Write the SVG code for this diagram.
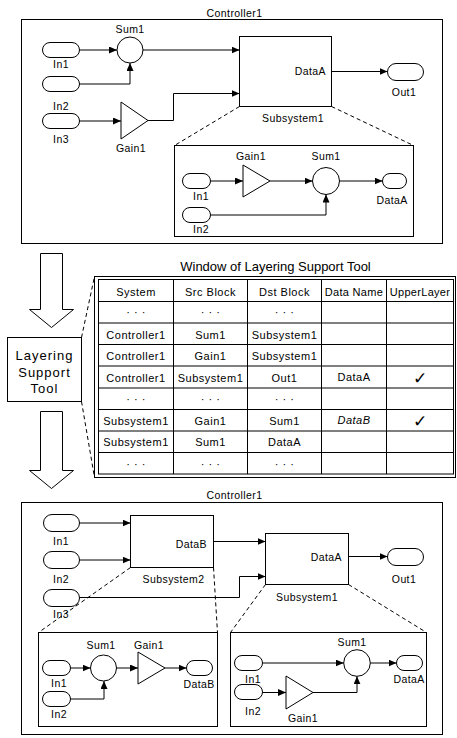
<svg xmlns="http://www.w3.org/2000/svg" width="457" height="738" viewBox="0 0 457 738">
<defs>
<style>
.ln{stroke:#000;stroke-width:1;fill:none}
.dl{stroke:#000;stroke-width:1;fill:none;stroke-dasharray:4 3}
.blk{fill:#fff;stroke:#000;stroke-width:1}
.t{font-family:"Liberation Sans",Arial,sans-serif;font-size:10.5px;letter-spacing:0.4px;fill:#000}
.tb{font-family:"Liberation Sans",Arial,sans-serif;font-size:11px;letter-spacing:0.5px;fill:#000;text-anchor:middle}
.tt{font-family:"Liberation Sans",Arial,sans-serif;font-size:13px;letter-spacing:0.5px;fill:#000}
.c{text-anchor:middle}
.r{text-anchor:end}
.ck{font-family:"DejaVu Sans",sans-serif;font-size:17px;fill:#000;text-anchor:middle}
</style>
<marker id="ah" markerUnits="userSpaceOnUse" markerWidth="9" markerHeight="8" refX="8" refY="3.5" orient="auto">
<path d="M0,0 L8,3.5 L0,7 z" fill="#000"/>
</marker>
</defs>
<rect width="457" height="738" fill="#fff"/>

<!-- ================= TOP: Controller1 ================= -->
<g id="top-controller1">
<rect x="21.5" y="19.5" width="421" height="224" class="blk"/>
<text x="234.5" y="17" class="t c">Controller1</text>
</g>
<g id="top-in1"><rect x="42.5" y="42.5" width="37" height="15" rx="7.5" class="blk"/><text x="61" y="68" class="t c">In1</text></g>
<g id="top-in2"><rect x="42.5" y="76.5" width="37" height="15" rx="7.5" class="blk"/><text x="61" y="110" class="t c">In2</text></g>
<g id="top-in3"><rect x="42.5" y="113.5" width="37" height="15" rx="7.5" class="blk"/><text x="61" y="143" class="t c">In3</text></g>
<g id="top-sum1"><circle cx="130" cy="50" r="13" class="blk"/><text x="130" y="33" class="t c">Sum1</text></g>
<g id="top-gain1"><polygon points="121,102 148,120.5 121,139" class="blk"/><text x="131" y="152" class="t c">Gain1</text></g>
<g id="top-subsystem1"><rect x="239.5" y="36.5" width="92" height="70" class="blk"/><text x="326" y="75" class="t r">DataA</text><text x="293" y="122" class="t c">Subsystem1</text></g>
<g id="top-out1"><rect x="387.5" y="63.5" width="36" height="17" rx="8.5" class="blk"/><text x="404" y="96" class="t c">Out1</text></g>

<g id="top-sub-detail">
<rect x="174.5" y="145.5" width="239" height="91" class="blk"/>
</g>
<g id="sub1-in1"><rect x="182.5" y="173.5" width="28" height="15" rx="7.5" class="blk"/><text x="201" y="200" class="t c">In1</text></g>
<g id="sub1-in2"><rect x="182.5" y="207.5" width="28" height="15" rx="7.5" class="blk"/><text x="201" y="233" class="t c">In2</text></g>
<g id="sub1-gain1"><polygon points="243,165 270,181 243,197" class="blk"/><text x="251" y="160" class="t c">Gain1</text></g>
<g id="sub1-sum1"><circle cx="326" cy="181" r="13.5" class="blk"/><text x="326" y="160" class="t c">Sum1</text></g>
<g id="sub1-dataA"><rect x="382.5" y="173.5" width="24" height="15" rx="7.5" class="blk"/><text x="392" y="204" class="t c">DataA</text></g>

<!-- ================= MIDDLE ================= -->
<g id="arrow-down-1"><polygon points="40.5,253.5 62.5,253.5 62.5,309.5 73.5,309.5 51.5,327.5 29.5,309.5 40.5,309.5" class="blk"/></g>
<g id="layering-tool">
<rect x="7.5" y="337.5" width="74" height="64" class="blk"/>
<text x="44.5" y="360" class="tt c" style="letter-spacing:1px">Layering</text>
<text x="44.5" y="377" class="tt c" style="letter-spacing:1px">Support</text>
<text x="44.5" y="393" class="tt c" style="letter-spacing:1px">Tool</text>
</g>
<g id="arrow-down-2"><polygon points="40.5,411.5 62.5,411.5 62.5,470.5 73.5,470.5 51.5,488.5 29.5,470.5 40.5,470.5" class="blk"/></g>

<g id="tool-window">
<text x="275.5" y="271" class="tt c" style="letter-spacing:0">Window of Layering Support Tool</text>
<rect x="94.5" y="276.5" width="361" height="201" class="blk"/>
<rect x="98.5" y="279.5" width="355" height="194.5" class="blk"/>
<g class="ln">
<line x1="173.5" y1="279.5" x2="173.5" y2="474"/>
<line x1="247.5" y1="279.5" x2="247.5" y2="474"/>
<line x1="321.5" y1="279.5" x2="321.5" y2="474"/>
<line x1="386.5" y1="279.5" x2="386.5" y2="474"/>
<line x1="98.5" y1="301.5" x2="453.5" y2="301.5"/>
<line x1="98.5" y1="323" x2="453.5" y2="323"/>
<line x1="98.5" y1="344.5" x2="453.5" y2="344.5"/>
<line x1="98.5" y1="366" x2="453.5" y2="366"/>
<line x1="98.5" y1="388" x2="453.5" y2="388"/>
<line x1="98.5" y1="409.5" x2="453.5" y2="409.5"/>
<line x1="98.5" y1="431" x2="453.5" y2="431"/>
<line x1="98.5" y1="452.5" x2="453.5" y2="452.5"/>
</g>
<text x="136" y="296" class="tb">System</text>
<text x="210.5" y="296" class="tb">Src Block</text>
<text x="284.5" y="296" class="tb">Dst Block</text>
<text x="354" y="296" class="tb" style="letter-spacing:0.3px">Data Name</text>
<text x="420" y="296" class="tb" style="letter-spacing:0.3px">UpperLayer</text>

<text x="136" y="316" class="tb">· · ·</text>
<text x="210.5" y="316" class="tb">· · ·</text>
<text x="284.5" y="316" class="tb">· · ·</text>

<text x="136" y="338.5" class="tb">Controller1</text>
<text x="210.5" y="338.5" class="tb">Sum1</text>
<text x="284.5" y="338.5" class="tb">Subsystem1</text>

<text x="136" y="360" class="tb">Controller1</text>
<text x="210.5" y="360" class="tb">Gain1</text>
<text x="284.5" y="360" class="tb">Subsystem1</text>

<text x="136" y="381.5" class="tb">Controller1</text>
<text x="210.5" y="381.5" class="tb">Subsystem1</text>
<text x="284.5" y="381.5" class="tb">Out1</text>
<text x="354" y="381" class="tb">DataA</text>
<text x="420" y="384" class="ck">✓</text>

<text x="136" y="403" class="tb">· · ·</text>
<text x="210.5" y="403" class="tb">· · ·</text>
<text x="284.5" y="403" class="tb">· · ·</text>

<text x="136" y="424.5" class="tb">Subsystem1</text>
<text x="210.5" y="424.5" class="tb">Gain1</text>
<text x="284.5" y="424.5" class="tb">Sum1</text>
<text x="354" y="424" class="tb" font-style="italic">DataB</text>
<text x="420" y="427" class="ck">✓</text>

<text x="136" y="446" class="tb">Subsystem1</text>
<text x="210.5" y="446" class="tb">Sum1</text>
<text x="284.5" y="446" class="tb">DataA</text>

<text x="136" y="467.5" class="tb">· · ·</text>
<text x="210.5" y="467.5" class="tb">· · ·</text>
<text x="284.5" y="467.5" class="tb">· · ·</text>
</g>

<!-- ================= BOTTOM: Controller1 ================= -->
<g id="bot-controller1">
<rect x="21.5" y="502.5" width="421" height="232" class="blk"/>
<text x="234.5" y="499" class="t c">Controller1</text>
</g>
<g id="bot-in1"><rect x="43.5" y="514.5" width="36" height="17" rx="8.5" class="blk"/><text x="61" y="545" class="t c">In1</text></g>
<g id="bot-in2"><rect x="43.5" y="551.5" width="36" height="17" rx="8.5" class="blk"/><text x="61" y="583" class="t c">In2</text></g>
<g id="bot-in3"><rect x="43.5" y="589.5" width="36" height="17" rx="8.5" class="blk"/><text x="61" y="618" class="t c">In3</text></g>
<g id="bot-subsystem2"><rect x="130.5" y="515.5" width="83" height="52" class="blk"/><text x="207" y="548" class="t r">DataB</text><text x="173.5" y="583" class="t c">Subsystem2</text></g>
<g id="bot-subsystem1"><rect x="265.5" y="533.5" width="83" height="51" class="blk"/><text x="342" y="561" class="t r">DataA</text><text x="307" y="601" class="t c">Subsystem1</text></g>
<g id="bot-out1"><rect x="387.5" y="548.5" width="36" height="17" rx="8.5" class="blk"/><text x="404" y="583" class="t c">Out1</text></g>

<g id="sub2-detail"><rect x="38.5" y="632.5" width="179" height="94" class="blk"/></g>
<g id="sub2-in1"><rect x="42.5" y="660.5" width="28" height="15" rx="7.5" class="blk"/><text x="59" y="687" class="t c">In1</text></g>
<g id="sub2-in2"><rect x="42.5" y="691.5" width="28" height="15" rx="7.5" class="blk"/><text x="59" y="718" class="t c">In2</text></g>
<g id="sub2-sum1"><circle cx="103.5" cy="668" r="13" class="blk"/><text x="101" y="649" class="t c">Sum1</text></g>
<g id="sub2-gain1"><polygon points="138,652 165,668 138,684" class="blk"/><text x="149" y="649" class="t c">Gain1</text></g>
<g id="sub2-dataB"><rect x="186.5" y="660.5" width="26" height="15" rx="7.5" class="blk"/><text x="199" y="688" class="t c">DataB</text></g>

<g id="sub1b-detail"><rect x="230.5" y="632.5" width="196" height="94" class="blk"/></g>
<g id="sub1b-in1"><rect x="234.5" y="655.5" width="28" height="15" rx="7.5" class="blk"/><text x="253" y="683" class="t c">In1</text></g>
<g id="sub1b-in2"><rect x="234.5" y="684.5" width="28" height="15" rx="7.5" class="blk"/><text x="253" y="715" class="t c">In2</text></g>
<g id="sub1b-gain1"><polygon points="286,676 313,692.5 286,709" class="blk"/><text x="303" y="722" class="t c">Gain1</text></g>
<g id="sub1b-sum1"><circle cx="357" cy="663" r="13.3" class="blk"/><text x="352" y="646" class="t c">Sum1</text></g>
<g id="sub1b-dataA"><rect x="396.5" y="655.5" width="26" height="15" rx="7.5" class="blk"/><text x="409" y="683" class="t c">DataA</text></g>

<!-- ================= CONNECTORS ================= -->
<g id="connectors">
<path d="M79.5,50 H117" class="ln" marker-end="url(#ah)"/>
<path d="M79.5,84 H130 V63" class="ln" marker-end="url(#ah)"/>
<path d="M79.5,121 H121" class="ln" marker-end="url(#ah)"/>
<path d="M143,50 H239.5" class="ln" marker-end="url(#ah)"/>
<path d="M148,120.5 H173.5 V93.5 H239.5" class="ln" marker-end="url(#ah)"/>
<path d="M331.5,71.5 H387.5" class="ln" marker-end="url(#ah)"/>
<path d="M239.5,106.5 L174.5,145.5" class="dl"/>
<path d="M331.5,106.5 L413.5,145.5" class="dl"/>
<path d="M210.5,181 H243" class="ln" marker-end="url(#ah)"/>
<path d="M270,181 H312.5" class="ln" marker-end="url(#ah)"/>
<path d="M339.5,181 H382.5" class="ln" marker-end="url(#ah)"/>
<path d="M210.5,215 H326 V194.5" class="ln" marker-end="url(#ah)"/>
<path d="M81.5,337.5 L94.5,276.5" class="dl"/>
<path d="M81.5,401.5 L94.5,477.5" class="dl"/>
<path d="M79.5,523 H130.5" class="ln" marker-end="url(#ah)"/>
<path d="M79.5,560 H130.5" class="ln" marker-end="url(#ah)"/>
<path d="M213.5,541.5 H265.5" class="ln" marker-end="url(#ah)"/>
<path d="M79.5,597.5 H239.5 V576.5 H265.5" class="ln" marker-end="url(#ah)"/>
<path d="M348.5,556.5 H387.5" class="ln" marker-end="url(#ah)"/>
<path d="M130.5,567.5 L38.5,632.5" class="dl"/>
<path d="M213.5,567.5 L217.5,632.5" class="dl"/>
<path d="M265.5,584.5 L230.5,632.5" class="dl"/>
<path d="M348.5,584.5 L426.5,632.5" class="dl"/>
<path d="M70.5,668 H90.5" class="ln" marker-end="url(#ah)"/>
<path d="M116.5,668 H138" class="ln" marker-end="url(#ah)"/>
<path d="M165,668 H186.5" class="ln" marker-end="url(#ah)"/>
<path d="M70.5,699 H104 V681" class="ln" marker-end="url(#ah)"/>
<path d="M262.5,663 H343.7" class="ln" marker-end="url(#ah)"/>
<path d="M262.5,692.5 H286" class="ln" marker-end="url(#ah)"/>
<path d="M313,692.5 H357 V676.3" class="ln" marker-end="url(#ah)"/>
<path d="M370.3,663 H396.5" class="ln" marker-end="url(#ah)"/>
</g>
</svg>
